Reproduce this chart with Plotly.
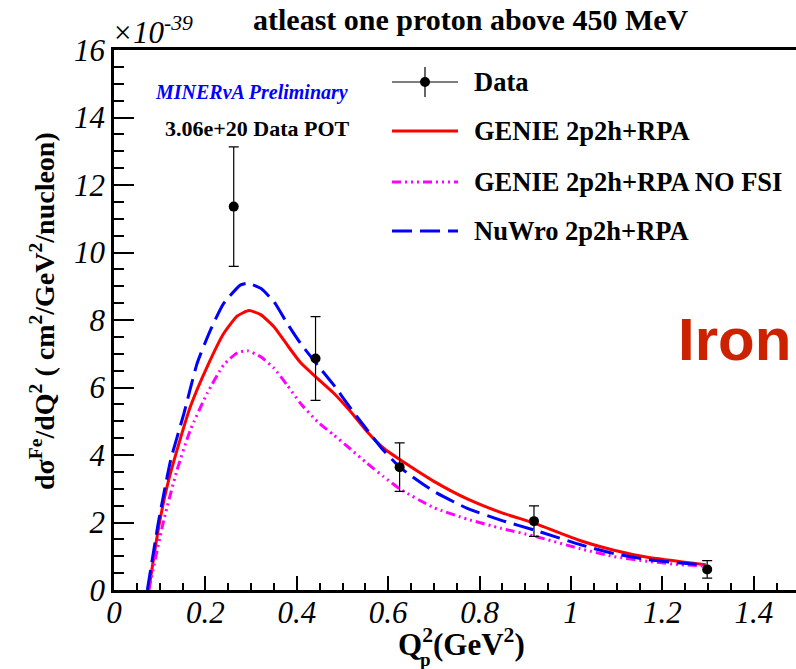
import plotly.graph_objects as go

# ---------------- data (cross-section in units of 1e-39 cm^2/GeV^2/nucleon) ----------------
q2_data = [0.262, 0.441, 0.625, 0.919, 1.298]
xsec_data = [11.36, 6.86, 3.64, 2.04, 0.61]
xsec_err = [1.77, 1.24, 0.72, 0.45, 0.26]

q2_genie = [0.076, 0.098, 0.116, 0.138, 0.167, 0.204, 0.240, 0.270, 0.295, 0.321, 0.350, 0.379,
            0.408, 0.445, 0.481, 0.518, 0.554, 0.590, 0.627, 0.700, 0.773, 0.846, 0.919, 1.021,
            1.094, 1.167, 1.240, 1.294]
xsec_genie = [0.0, 1.88, 3.06, 4.15, 5.43, 6.62, 7.60, 8.12, 8.28, 8.16, 7.80, 7.26,
              6.74, 6.27, 5.83, 5.28, 4.69, 4.20, 3.85, 3.22, 2.70, 2.30, 1.98, 1.46,
              1.18, 0.97, 0.84, 0.75]

q2_nofsi = [0.076, 0.109, 0.138, 0.167, 0.204, 0.240, 0.270, 0.292, 0.321, 0.350, 0.379,
            0.408, 0.445, 0.481, 0.518, 0.554, 0.590, 0.627, 0.700, 0.773, 0.846, 0.919,
            1.021, 1.094, 1.167, 1.240, 1.294]
xsec_nofsi = [0.0, 2.07, 3.56, 4.74, 5.83, 6.67, 7.03, 7.09, 6.91, 6.57, 6.07,
              5.53, 4.99, 4.59, 4.17, 3.75, 3.36, 2.98, 2.44, 2.10, 1.83, 1.60,
              1.22, 0.99, 0.85, 0.75, 0.71]

q2_nuwro = [0.073, 0.098, 0.124, 0.153, 0.182, 0.211, 0.240, 0.277, 0.292, 0.321, 0.350, 0.379,
            0.408, 0.445, 0.481, 0.518, 0.554, 0.590, 0.627, 0.700, 0.773, 0.846, 0.919, 1.021,
            1.094, 1.167, 1.240, 1.294]
xsec_nuwro = [0.0, 2.07, 3.85, 5.23, 6.72, 7.70, 8.49, 9.04, 9.09, 8.94, 8.54, 7.90,
              7.31, 6.67, 6.07, 5.38, 4.74, 4.13, 3.62, 2.92, 2.42, 2.07, 1.78, 1.34,
              1.08, 0.90, 0.80, 0.74]

legend_labels = ["Data", "GENIE 2p2h+RPA", "GENIE 2p2h+RPA NO FSI", "NuWro 2p2h+RPA"]

# ---------------- layout geometry ----------------
W, H = 796, 669
ML, MR, MT, MB = 114, 0, 50, 79
XMAX = (W - ML - MR) / 457.0
YMAX = 16.0
PW = W - ML - MR
PH = H - MT - MB

def px_x(px):
    return (px - ML) / PW * XMAX

def px_y(py):
    return (H - MB - py) / PH * YMAX

def pap_x(px):
    return (px - ML) / PW

def pap_y(py):
    return (H - MB - py) / PH

SERIF = "Liberation Serif"
RED = "#ff0000"
MAG = "#ff00ff"
BLUE = "#0000ff"
DASH_BLUE = "20px,8px"
DASH_MAG = "9px,4px,2px,4px,2px,4px,2px,4px"

fig = go.Figure()

fig.add_trace(go.Scatter(x=q2_genie, y=xsec_genie, mode="lines", line=dict(color=RED, width=3, shape="spline", smoothing=0.5), showlegend=False))
fig.add_trace(go.Scatter(x=q2_nofsi, y=xsec_nofsi, mode="lines", line=dict(color=MAG, width=3, dash=DASH_MAG, shape="spline", smoothing=0.5), showlegend=False))
fig.add_trace(go.Scatter(x=q2_nuwro, y=xsec_nuwro, mode="lines", line=dict(color=BLUE, width=3, dash=DASH_BLUE, shape="spline", smoothing=0.5), showlegend=False))
fig.add_trace(go.Scatter(x=q2_data, y=xsec_data, mode="markers",
                         marker=dict(color="black", size=10),
                         error_y=dict(type="data", array=xsec_err, color="black", thickness=1.2, width=5),
                         showlegend=False))

# ---------------- legend (drawn manually, ROOT-style) ----------------
leg_x0, leg_x1, leg_text_x = 392, 458, 472
leg_rows = [82, 131, 182, 231]
fig.add_trace(go.Scatter(x=[px_x(leg_x0), px_x(leg_x1)], y=[px_y(leg_rows[0])] * 2, mode="lines",
                         line=dict(color="black", width=1.2), showlegend=False, cliponaxis=False, hoverinfo="skip"))
fig.add_trace(go.Scatter(x=[px_x(425)] * 2, y=[px_y(67), px_y(97)], mode="lines",
                         line=dict(color="black", width=1.2), showlegend=False, cliponaxis=False, hoverinfo="skip"))
fig.add_trace(go.Scatter(x=[px_x(425)], y=[px_y(leg_rows[0])], mode="markers",
                         marker=dict(color="black", size=10), showlegend=False, cliponaxis=False, hoverinfo="skip"))
for row, col, dash in [(leg_rows[1], RED, "solid"), (leg_rows[2], MAG, DASH_MAG), (leg_rows[3], BLUE, DASH_BLUE)]:
    fig.add_trace(go.Scatter(x=[px_x(leg_x0), px_x(leg_x1)], y=[px_y(row)] * 2, mode="lines",
                             line=dict(color=col, width=3, dash=dash), showlegend=False, cliponaxis=False, hoverinfo="skip"))

annotations = []
for row, lab in zip(leg_rows, legend_labels):
    annotations.append(dict(text="<b>%s</b>" % lab, x=pap_x(leg_text_x), y=pap_y(row), xref="paper", yref="paper",
                            xanchor="left", yanchor="middle", showarrow=False,
                            font=dict(family=SERIF, size=26.5, color="black")))

annotations.append(dict(text="<b>atleast one proton above 450 MeV</b>", x=pap_x(471), y=pap_y(20), xref="paper", yref="paper",
                        xanchor="center", yanchor="middle", showarrow=False,
                        font=dict(family=SERIF, size=30, color="black")))
annotations.append(dict(text="<i>×10<sup>-39</sup></i>", x=pap_x(110), y=pap_y(52), xref="paper", yref="paper",
                        xanchor="left", yanchor="bottom", showarrow=False,
                        font=dict(family=SERIF, size=31, color="black")))
annotations.append(dict(text="<b><i>MINERνA Preliminary</i></b>", x=pap_x(251), y=pap_y(93), xref="paper", yref="paper",
                        xanchor="center", yanchor="middle", showarrow=False,
                        font=dict(family=SERIF, size=20, color=BLUE)))
annotations.append(dict(text="<b>3.06e+20 Data POT</b>", x=pap_x(257), y=pap_y(128), xref="paper", yref="paper",
                        xanchor="center", yanchor="middle", showarrow=False,
                        font=dict(family=SERIF, size=22, color="black")))
annotations.append(dict(text="<b>Iron</b>", x=pap_x(676), y=pap_y(340), xref="paper", yref="paper",
                        xanchor="left", yanchor="middle", showarrow=False,
                        font=dict(family="Liberation Sans", size=60, color="#cc2200")))
annotations.append(dict(text="<b>dσ<sup>Fe</sup>/dQ<sup>2</sup> ( cm<sup>2</sup>/GeV<sup>2</sup>/nucleon)</b>",
                        x=pap_x(42), y=pap_y(311), xref="paper", yref="paper", textangle=-90,
                        xanchor="center", yanchor="middle", showarrow=False,
                        font=dict(family=SERIF, size=28, color="black")))
annotations.append(dict(text="<b>Q<sup>2</sup>(GeV<sup>2</sup>)</b>", x=pap_x(461), y=pap_y(642), xref="paper", yref="paper",
                        xanchor="center", yanchor="middle", showarrow=False,
                        font=dict(family=SERIF, size=31, color="black")))
annotations.append(dict(text="<b>p</b>", x=pap_x(425), y=pap_y(659), xref="paper", yref="paper",
                        xanchor="center", yanchor="middle", showarrow=False,
                        font=dict(family=SERIF, size=19, color="black")))

fig.update_layout(
    width=W, height=H,
    margin=dict(l=ML, r=MR, t=MT, b=MB, pad=0, autoexpand=False),
    paper_bgcolor="white", plot_bgcolor="white",
    annotations=annotations,
    showlegend=False,
)
fig.update_xaxes(range=[0, XMAX], showgrid=False, zeroline=False, automargin=False,
                 showline=True, linecolor="black", linewidth=2.5, mirror=True,
                 ticks="inside", ticklen=14, tickwidth=1.5, tickcolor="black",
                 tick0=0, dtick=0.2, tickangle=0, ticklabelstandoff=-7,
                 minor=dict(ticks="inside", ticklen=7, tickwidth=1.5, tickcolor="black", dtick=0.05, showgrid=False),
                 tickfont=dict(family=SERIF, size=31, color="black", style="italic"))
fig.update_yaxes(range=[0, YMAX], showgrid=False, zeroline=False, automargin=False,
                 showline=True, linecolor="black", linewidth=2.5, mirror=False,
                 ticks="inside", ticklen=20, tickwidth=1.5, tickcolor="black",
                 tick0=0, dtick=2,
                 minor=dict(ticks="inside", ticklen=10, tickwidth=1.5, tickcolor="black", dtick=0.5, showgrid=False),
                 tickfont=dict(family=SERIF, size=31, color="black", style="italic"))

fig.write_html("out.html")
